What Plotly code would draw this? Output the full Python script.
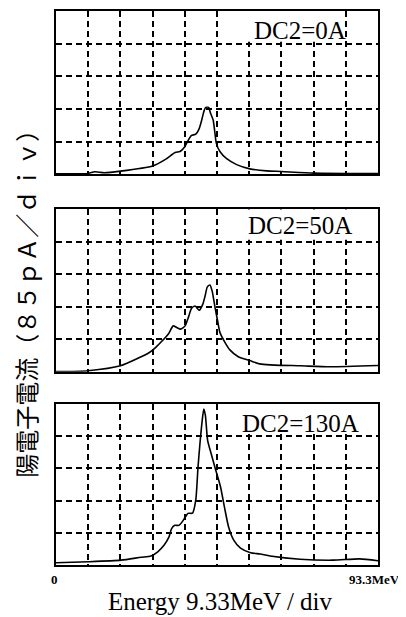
import plotly.graph_objects as go

# Energy axis in divisions (9.33 MeV / div), current in divisions (85 pA / div)
x_0A = [0, 1.0, 1.2, 1.5, 2.0, 3.0, 3.4, 3.7, 3.85, 4.0, 4.1, 4.2, 4.34, 4.45, 4.52, 4.59, 4.65,
        4.74, 4.80, 4.88, 4.93, 4.98, 5.09, 5.30, 5.61, 6.02, 6.54, 7.0, 8.0, 9.0, 10.0]
y_0A = [0.02, 0.03, 0.08, 0.05, 0.10, 0.26, 0.46, 0.67, 0.70, 0.85, 1.03, 1.19, 1.23, 1.41, 1.64, 1.92, 2.05,
        2.05, 1.87, 1.67, 1.31, 0.95, 0.70, 0.48, 0.30, 0.17, 0.11, 0.09, 0.04, 0.03, 0.03]

x_50A = [0, 1.0, 2.0, 2.9, 3.1, 3.3, 3.49, 3.64, 3.75, 3.87, 4.01, 4.11, 4.21, 4.32, 4.45, 4.56, 4.63,
         4.70, 4.78, 4.85, 4.94, 5.02, 5.09, 5.22, 5.40, 5.66, 6.02, 6.33, 6.65, 7.6, 8.5, 10.0]
y_50A = [0.0, 0.03, 0.18, 0.59, 0.75, 0.95, 1.16, 1.41, 1.36, 1.31, 1.41, 1.67, 1.95, 2.02, 1.89, 2.08, 2.33,
         2.61, 2.67, 2.48, 1.97, 1.56, 1.21, 0.95, 0.67, 0.46, 0.34, 0.24, 0.21, 0.18, 0.15, 0.19]

x_130A = [0, 1.0, 2.02, 2.64, 2.95, 3.16, 3.36, 3.51, 3.59, 3.69, 3.82, 3.92, 4.03, 4.10, 4.24, 4.34, 4.41,
          4.47, 4.54, 4.59, 4.64, 4.71, 4.82, 4.95, 5.11, 5.23, 5.36, 5.52, 5.73, 6.04, 6.34, 6.65, 7.58,
          8.6, 9.43, 10.0]
y_130A = [0.07, 0.10, 0.15, 0.24, 0.28, 0.41, 0.62, 0.87, 1.13, 1.23, 1.23, 1.34, 1.51, 1.60, 1.61, 2.01, 3.03,
          3.76, 4.48, 4.84, 4.63, 3.86, 3.45, 2.98, 2.42, 1.80, 1.18, 0.77, 0.52, 0.38, 0.34, 0.28, 0.18,
          0.15, 0.19, 0.13]

panel_labels = ["DC2=0A", "DC2=50A", "DC2=130A"]
x_tick_labels = ["0", "93.3MeV"]
x_title = "Energy 9.33MeV / div"
y_title = "陽電子電流（８５ｐＡ／ｄｉｖ）"

series = [(x_0A, y_0A), (x_50A, y_50A), (x_130A, y_130A)]
domains = [[0.705, 1.0], [0.349, 0.642], [0.0, 0.291]]
label_y = [0.878, 0.90, 0.877]
label_box_right = [8.9, 9.6, 9.6]

SERIF = "Liberation Serif, Times New Roman, serif"

fig = go.Figure()
for i, (xs, ys) in enumerate(series):
    n = "" if i == 0 else str(i + 1)
    fig.add_trace(go.Scatter(x=xs, y=ys, mode="lines", xaxis="x" + n, yaxis="y" + n,
                             line=dict(color="black", width=1.6, shape="spline", smoothing=0.6),
                             showlegend=False, hoverinfo="skip"))
    axis_common = dict(showline=True, mirror=True, linecolor="black", linewidth=2,
                       showgrid=True, gridcolor="black", gridwidth=1.5, griddash="6px,4px",
                       zeroline=False, showticklabels=False, ticks="", fixedrange=True)
    fig.update_layout(**{
        "xaxis" + n: dict(range=[0, 10], dtick=1, tick0=0, domain=[0, 1],
                          anchor="y" + n, **axis_common),
        "yaxis" + n: dict(range=[0, 5], dtick=1, tick0=0, domain=domains[i],
                          anchor="x" + n, **axis_common),
    })
    # white label area that hides the grid behind the label text
    fig.add_shape(type="rect", xref="x" + n, yref="y" + n, x0=5.5, x1=label_box_right[i],
                  y0=4.06, y1=5, fillcolor="white", line=dict(width=0), layer="between")
    fig.add_annotation(text=panel_labels[i], xref="x" + n + " domain", yref="y" + n + " domain",
                       x=0.758, y=label_y[i], xanchor="center", yanchor="middle",
                       showarrow=False, font=dict(family=SERIF, size=25, color="black"))

fig.add_annotation(text=x_tick_labels[0], xref="paper", yref="paper", x=-0.005, y=-0.026,
                   xanchor="center", yanchor="middle", showarrow=False,
                   font=dict(family=SERIF, size=13, color="black", weight="bold"))
fig.add_annotation(text=x_tick_labels[1], xref="paper", yref="paper", x=0.99, y=-0.026,
                   xanchor="center", yanchor="middle", showarrow=False,
                   font=dict(family=SERIF, size=13, color="black", weight="bold"))
fig.add_annotation(text=x_title, xref="paper", yref="paper", x=0.51, y=-0.065,
                   xanchor="center", yanchor="middle", showarrow=False,
                   font=dict(family=SERIF, size=25, color="black"))
fig.add_annotation(text=y_title, xref="paper", yref="paper", x=-0.094, y=0.482,
                   xanchor="center", yanchor="middle", textangle=-90, showarrow=False,
                   borderpad=0,
                   font=dict(family="Noto Sans CJK JP", size=24, color="black"))

# page body has an 8px margin, so the figure is sized and offset to compensate
fig.update_layout(width=398, height=609, margin=dict(l=48, r=28, t=1, b=52),
                  paper_bgcolor="white", plot_bgcolor="white")

fig.write_html("out.html")
